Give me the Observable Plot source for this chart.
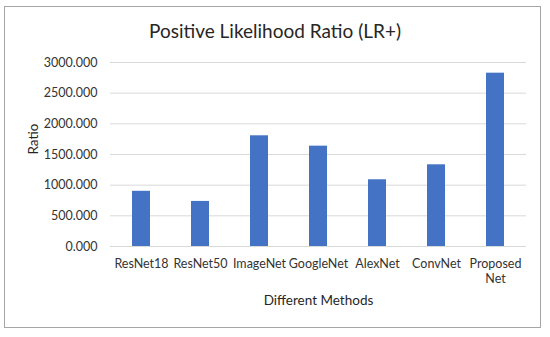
<!DOCTYPE html>
<html>
<head>
<meta charset="utf-8">
<script src="https://cdn.jsdelivr.net/npm/d3@7"></script>
<script src="https://cdn.jsdelivr.net/npm/@observablehq/plot@0.6"></script>
<style>
  html, body { margin: 0; padding: 0; background: #fff; }
  #wrap { position: relative; width: 550px; height: 337px; font-family: Lato, "Open Sans", sans-serif; }
  #frame { position: absolute; left: 4px; top: 6px; width: 537px; height: 322px; border: 1px solid #a6a6a6; box-sizing: border-box; pointer-events: none; }
  #title { position: absolute; left: 0; width: 550px; top: 19px; text-align: center; font-size: 19px; color: #262626; }
  #chart { position: absolute; left: 0; top: 0; }
</style>
</head>
<body>
<div id="wrap">
  <div id="chart"></div>
  <div id="frame"></div>
  <div id="title">Positive Likelihood Ratio (LR+)</div>
</div>
<script>
const methods = ["ResNet18", "ResNet50", "ImageNet", "GoogleNet", "AlexNet", "ConvNet", "Proposed Net"];
const ratios = [900, 735, 1805, 1636, 1088, 1332, 2826];
const yTicks = [0, 500, 1000, 1500, 2000, 2500, 3000];
const xLabels = {"Proposed Net": "Proposed\nNet"};

const data = methods.map((m, i) => ({method: m, ratio: ratios[i]}));

const chart = Plot.plot({
  width: 550,
  height: 337,
  marginTop: 62,
  marginBottom: 91,
  marginLeft: 110,
  marginRight: 24,
  style: {fontFamily: "Lato, 'Open Sans', sans-serif", fontSize: "12.5px", color: "#333333", background: "transparent"},
  x: {domain: methods, paddingInner: 0.7, paddingOuter: 0.35, label: null},
  y: {domain: [0, 3000], label: null},
  marks: [
    Plot.gridY(yTicks, {stroke: "#d9d9d9", strokeOpacity: 1, strokeWidth: 1}),
    Plot.barY(data, {x: "method", y: "ratio", fill: "#4472c4"}),
    Plot.axisY({ticks: yTicks, tickFormat: d3.format(".3f"), tickSize: 0, tickPadding: 13, label: null, fontSize: 12.5}),
    Plot.axisX({tickSize: 0, tickPadding: 10, tickFormat: d => xLabels[d] || d, label: null, fontSize: 12.5, lineHeight: 1.25}),
    Plot.text(["Different Methods"], {frameAnchor: "bottom", dy: 58, text: d => d, fontSize: 13.5, fill: "#262626"}),
    Plot.text(["Ratio"], {frameAnchor: "left", dx: -77, rotate: -90, text: d => d, fontSize: 13.5, fill: "#262626"})
  ]
});
document.getElementById("chart").appendChild(chart);
</script>
</body>
</html>
